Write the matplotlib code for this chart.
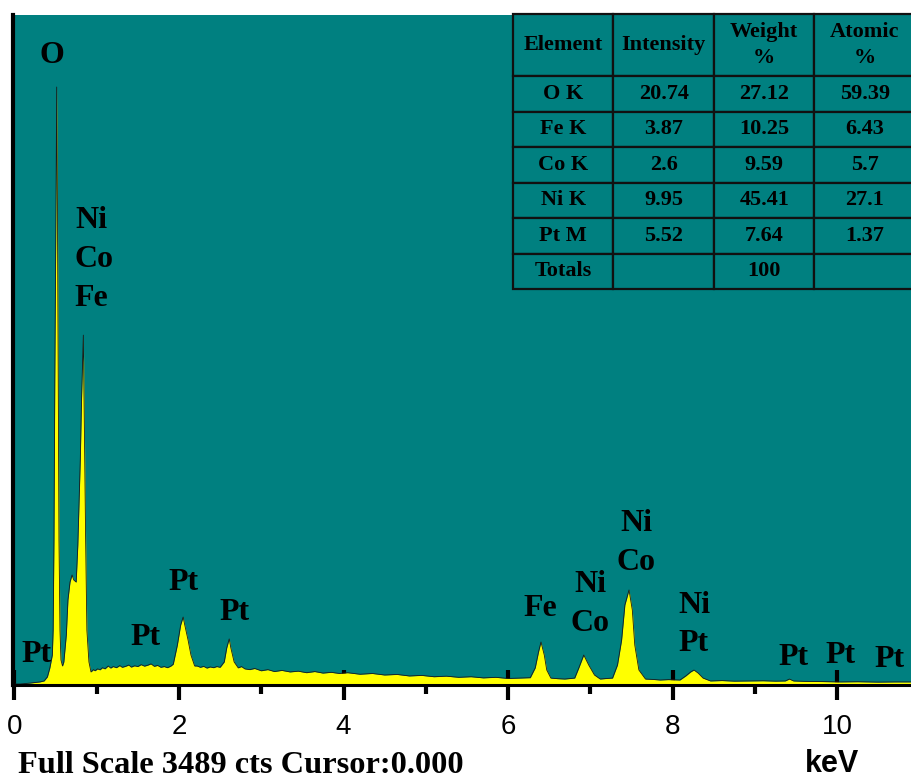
import matplotlib.pyplot as plt

# spectrum (keV, counts)
energy_kev = [-0.02, 0.07, 0.19, 0.31, 0.36, 0.40, 0.43, 0.46, 0.47, 0.48, 0.49,
              0.505, 0.513, 0.523, 0.533, 0.541, 0.553, 0.565, 0.584, 0.60, 0.63,
              0.65, 0.675, 0.70, 0.72, 0.75, 0.77, 0.80, 0.815, 0.837, 0.85, 0.865,
              0.88, 0.905, 0.93, 0.96, 0.98, 1.01, 1.04, 1.07, 1.10, 1.14, 1.17,
              1.20, 1.24, 1.28, 1.31, 1.35, 1.39, 1.42, 1.46, 1.50, 1.54, 1.58,
              1.62, 1.66, 1.70, 1.74, 1.78, 1.82, 1.86, 1.90, 1.93, 1.98, 2.02,
              2.05, 2.07, 2.11, 2.145, 2.19, 2.22, 2.26, 2.30, 2.34, 2.38, 2.42,
              2.46, 2.50, 2.55, 2.58, 2.61, 2.63, 2.67, 2.72, 2.76, 2.80, 2.86,
              2.92, 3.00, 3.08, 3.16, 3.25, 3.35, 3.45, 3.55, 3.65, 3.75, 3.85,
              3.95, 4.05, 4.20, 4.35, 4.50, 4.65, 4.80, 4.95, 5.10, 5.25, 5.40,
              5.55, 5.70, 5.85, 6.00, 6.15, 6.27, 6.33, 6.37, 6.40, 6.44, 6.47,
              6.52, 6.60, 6.69, 6.81, 6.86, 6.92, 6.98, 7.05, 7.12, 7.20, 7.27,
              7.33, 7.38, 7.42, 7.47, 7.51, 7.54, 7.59, 7.67, 7.76, 7.85, 7.95,
              8.09, 8.16, 8.22, 8.26, 8.31, 8.37, 8.46, 8.60, 8.75, 8.94, 9.10,
              9.25, 9.37, 9.42, 9.47, 9.60, 9.80, 10.04, 10.25, 10.50, 10.70, 10.91]
counts = [5, 5, 10, 16, 21, 42, 89, 156, 286, 755, 1588,
          2525, 3114, 2421, 1484, 755, 286, 130, 99, 120, 260,
          443, 536, 573, 547, 536, 729, 1172, 1484, 1822, 1328, 755,
          286, 120, 68, 80, 74, 84, 79, 90, 84, 99, 88,
          96, 90, 101, 92, 97, 104, 93, 100, 96, 106, 98,
          103, 110, 97, 102, 92, 96, 90, 98, 108, 208, 312,
          354, 312, 234, 156, 99, 99, 92, 97, 88, 94, 90,
          96, 92, 120, 193, 240, 193, 120, 89, 96, 84, 80,
          86, 74, 80, 70, 76, 68, 72, 64, 70, 62, 66,
          60, 64, 56, 60, 52, 55, 47, 50, 43, 46, 40,
          43, 37, 40, 34, 36, 38, 89, 172, 224, 156, 78,
          36, 33, 31, 36, 89, 156, 104, 52, 31, 34, 36,
          104, 234, 417, 495, 391, 208, 78, 31, 29, 26, 28,
          26, 47, 68, 78, 62, 36, 21, 23, 20, 21, 22,
          20, 21, 31, 21, 19, 18, 16, 17, 15, 16, 16]

peak_labels = ['O', 'Ni\nCo\nFe', 'Pt', 'Pt', 'Pt', 'Pt', 'Fe', 'Ni\nCo',
               'Ni\nCo', 'Ni\nPt', 'Pt', 'Pt', 'Pt']
label_kev = [0.456, 0.735, 0.27, 1.59, 2.05, 2.68, 6.39, 7.0, 7.56, 8.26,
             9.47, 10.04, 10.64]
label_cts = [3280, 2215, 160, 245, 536, 375, 396, 420, 740, 315, 141, 156, 135]

table_header = ['Element', 'Intensity', 'Weight\n%', 'Atomic\n%']
elements = ['O K', 'Fe K', 'Co K', 'Ni K', 'Pt M', 'Totals']
intensity = ['20.74', '3.87', '2.6', '9.95', '5.52', '']
weight = ['27.12', '10.25', '9.59', '45.41', '7.64', '100']
atomic = ['59.39', '6.43', '5.7', '27.1', '1.37', '']

teal = '#008080'
yellow = '#ffff00'

fig = plt.figure(figsize=(9.12, 7.81), dpi=100)
ax = fig.add_axes([13 / 912, 96 / 781, 899 / 912, 670 / 781])
ax.set_facecolor(teal)

ax.fill_between(energy_kev, counts, 0, color=yellow, lw=0, zorder=3)
ax.plot(energy_kev, counts, color='#1a1a1a', lw=0.6, zorder=4)

ax.set_xlim(-0.018, 10.91)
ax.set_ylim(0, 3489)

for txt, x, y in zip(peak_labels, label_kev, label_cts):
    ha = 'left' if txt.startswith('Ni\nCo\nFe') else 'center'
    ax.text(x, y, txt, ha=ha, va='center', fontsize=23, fontweight='bold',
            family='Liberation Serif', linespacing=1.45, zorder=5)

# spines
ax.spines.right.set_visible(False)
ax.spines.top.set_visible(False)
ax.spines.left.set_linewidth(3)
ax.spines.bottom.set_linewidth(2.2)
ax.spines.left.set_zorder(6)
ax.spines.bottom.set_zorder(6)

ax.set_yticks([])
ax.set_xticks([0, 2, 4, 6, 8, 10])
ax.set_xticks([1, 3, 5, 7, 9], minor=True)
ax.tick_params(axis='x', which='major', direction='inout', length=22, width=3,
               pad=10, labelsize=20)
ax.tick_params(axis='x', which='minor', direction='out', length=6.5, width=3)
for lab in ax.get_xticklabels():
    lab.set_family('Liberation Sans')

# results table
cell_text = [list(r) for r in zip(elements, intensity, weight, atomic)]
tab = ax.table(cellText=cell_text, colLabels=table_header, cellLoc='center',
               bbox=[500 / 899, 396 / 670, 402 / 899, 275 / 670], zorder=7)
tab.auto_set_font_size(False)
for (r, c), cell in tab.get_celld().items():
    cell.set_facecolor(teal)
    cell.set_edgecolor('#111111')
    cell.set_linewidth(1.6)
    cell.get_text().set_fontsize(16)
    cell.get_text().set_fontweight('bold')
    cell.get_text().set_family('Liberation Serif')
    if r == 0:
        cell.set_height(cell.get_height() * 1.75)
        cell.get_text().set_linespacing(1.35)

fig.text(18 / 912, 1 - 773 / 781, 'Full Scale 3489 cts Cursor:0.000',
         fontsize=23.3, fontweight='bold', family='Liberation Serif',
         ha='left', va='baseline')
fig.text(805 / 912, 1 - 772 / 781, 'keV', fontsize=22, fontweight='bold',
         family='Liberation Sans', ha='left', va='baseline')

fig.savefig('out.png', dpi=100, facecolor='white')
